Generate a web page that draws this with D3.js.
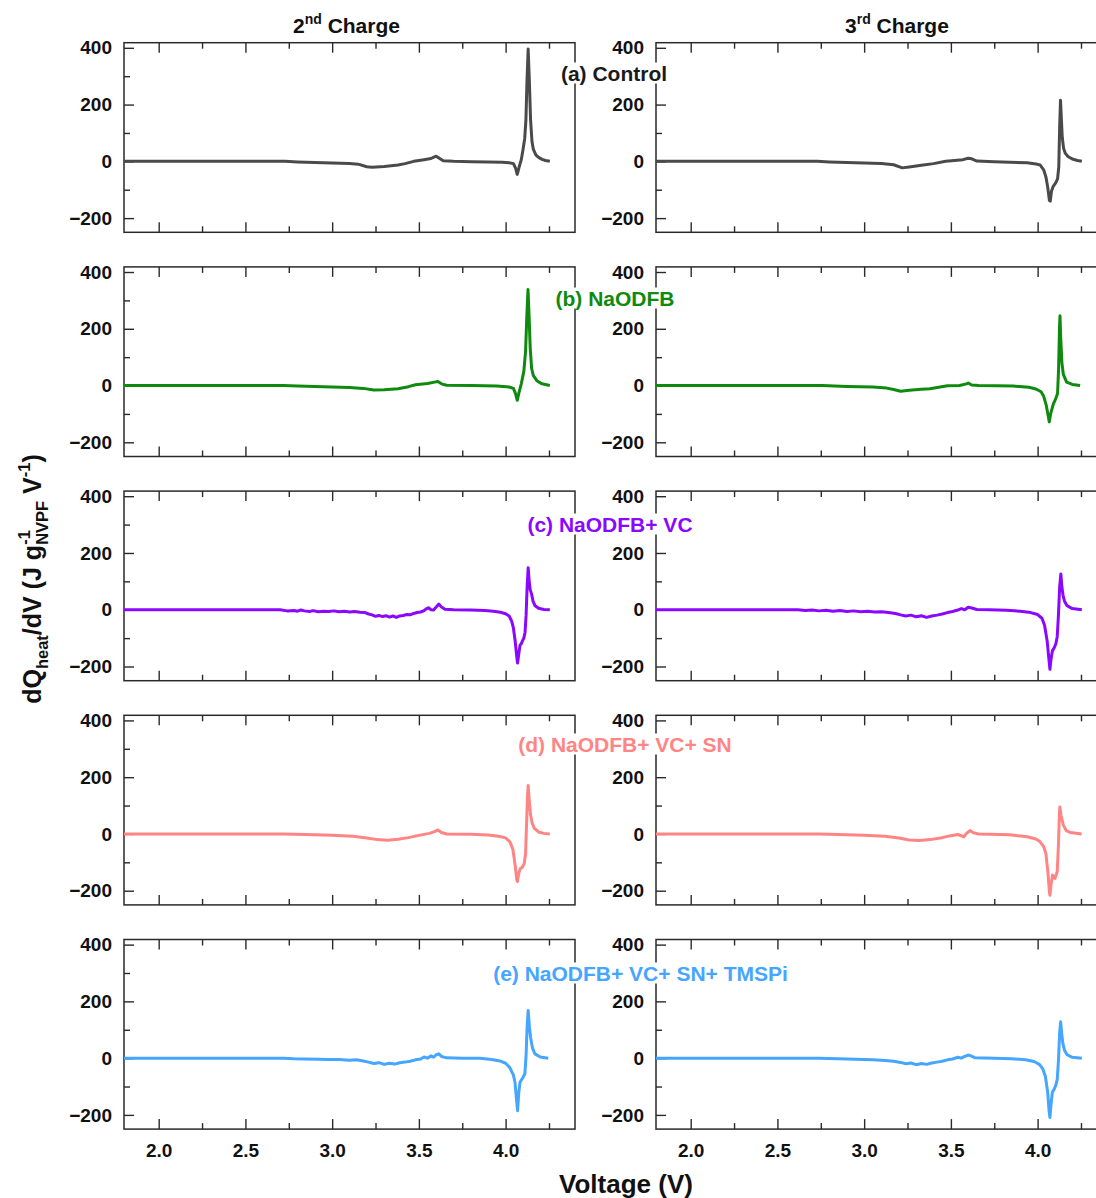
<!DOCTYPE html>
<html><head><meta charset="utf-8">
<script src="https://cdn.jsdelivr.net/npm/d3@7"></script>
<style>
body{margin:0;background:#fff;}
text{font-family:"Liberation Sans",Arial,sans-serif;font-weight:bold;}
</style></head>
<body><svg id="c" width="1096" height="1198"></svg>
<script>
// ---- data (Voltage V, dQheat/dV) ----
const xMajor = [2.0, 2.5, 3.0, 3.5, 4.0];
const xMinor = [2.25, 2.75, 3.25, 3.75, 4.25];
const yMajor = [-200, 0, 200, 400];
const yMinor = [-100, 100, 300];
const columnTitles = [["2", "nd", " Charge"], ["3", "rd", " Charge"]];
const seriesLabels = ["(a) Control", "(b) NaODFB", "(c) NaODFB+ VC", "(d) NaODFB+ VC+ SN", "(e) NaODFB+ VC+ SN+ TMSPi"];
const seriesColors = ["#4a4a4a", "#0e8a0e", "#8a08ff", "#ff8585", "#45a5ff"];
const labelColors = ["#1a1a1a", "#0e8a0e", "#8a08ff", "#ff8585", "#45a5ff"];

const ctrl2 = [[1.80,0],[2.50,0],[2.73,0],[2.80,-2],[2.90,-4],[3.00,-6],[3.10,-8],[3.15,-10],[3.20,-19],[3.23,-21],[3.30,-18],[3.38,-13],[3.42,-8],[3.47,0],[3.52,5],[3.57,10],[3.59,16],[3.60,18],[3.62,10],[3.64,2],[3.70,0],[3.80,-1],[3.90,-2],[3.98,-3],[4.02,-5],[4.045,-8],[4.058,-25],[4.067,-46],[4.078,-20],[4.09,5],[4.10,40],[4.11,80],[4.117,145],[4.123,280],[4.130,396],[4.137,280],[4.144,145],[4.152,70],[4.160,42],[4.175,22],[4.19,14],[4.21,7],[4.23,3],[4.255,0]];
const ctrl3 = [[1.80,0],[2.50,0],[2.73,0],[2.80,-2],[2.95,-5],[3.10,-8],[3.17,-12],[3.22,-23],[3.26,-20],[3.33,-14],[3.40,-8],[3.47,0],[3.52,3],[3.57,6],[3.60,11],[3.62,9],[3.65,1],[3.75,-1],[3.84,-3],[3.94,-5],[3.99,-9],[4.015,-13],[4.035,-30],[4.048,-55],[4.058,-90],[4.068,-138],[4.073,-140],[4.08,-105],[4.09,-88],[4.105,-75],[4.115,-62],[4.122,-20],[4.127,120],[4.132,215],[4.137,150],[4.142,85],[4.15,45],[4.16,28],[4.175,17],[4.20,8],[4.23,3],[4.255,0]];
const naodfb2 = [[1.80,0],[2.72,0],[2.80,-2],[2.95,-4],[3.10,-7],[3.18,-10],[3.24,-16],[3.30,-15],[3.38,-11],[3.44,-4],[3.48,3],[3.55,7],[3.59,12],[3.61,14],[3.63,6],[3.66,1],[3.80,0],[3.95,-2],[4.02,-5],[4.045,-10],[4.058,-30],[4.067,-52],[4.077,-25],[4.09,5],[4.105,50],[4.115,120],[4.122,240],[4.129,338],[4.135,250],[4.142,130],[4.15,60],[4.16,35],[4.18,17],[4.21,6],[4.255,0]];
const naodfb3 = [[1.80,0],[2.76,0],[2.90,-3],[3.05,-5],[3.13,-9],[3.17,-14],[3.21,-20],[3.26,-17],[3.33,-13],[3.38,-11],[3.43,-6],[3.48,-1],[3.55,0],[3.59,6],[3.60,9],[3.62,2],[3.66,0],[3.86,-2],[3.95,-6],[3.99,-12],[4.02,-22],[4.035,-38],[4.05,-70],[4.062,-110],[4.067,-128],[4.075,-100],[4.09,-66],[4.105,-45],[4.115,-28],[4.121,60],[4.126,200],[4.129,246],[4.133,170],[4.14,80],[4.148,40],[4.167,12],[4.20,4],[4.245,0]];
const vc2 = [[1.80,0],[2.70,0],[2.74,-4],[2.78,-3],[2.80,-5],[2.82,-1],[2.84,-4],[2.87,-6],[2.89,-3],[2.92,-7],[2.95,-5],[2.98,-6],[3.01,-4],[3.04,-7],[3.07,-5],[3.10,-8],[3.13,-6],[3.16,-9],[3.19,-10],[3.21,-15],[3.23,-18],[3.25,-23],[3.27,-20],[3.29,-24],[3.31,-21],[3.33,-26],[3.35,-22],[3.37,-27],[3.39,-22],[3.41,-20],[3.43,-17],[3.45,-18],[3.47,-13],[3.49,-10],[3.51,-8],[3.53,-3],[3.54,2],[3.555,7],[3.57,0],[3.585,-1],[3.60,10],[3.615,20],[3.63,10],[3.65,2],[3.70,0],[3.80,-1],[3.88,-3],[3.93,-5],[3.97,-9],[4.00,-14],[4.02,-22],[4.035,-40],[4.045,-65],[4.055,-110],[4.065,-170],[4.069,-188],[4.075,-160],[4.083,-125],[4.09,-120],[4.097,-110],[4.105,-100],[4.112,-80],[4.118,-20],[4.124,80],[4.130,148],[4.136,100],[4.142,70],[4.15,55],[4.158,30],[4.17,14],[4.19,5],[4.22,1],[4.255,0]];
const vc3 = [[1.80,0],[2.62,0],[2.66,-3],[2.70,-1],[2.74,-4],[2.78,-2],[2.82,-5],[2.86,-3],[2.90,-6],[2.94,-4],[2.98,-7],[3.02,-5],[3.06,-8],[3.10,-7],[3.14,-10],[3.18,-13],[3.21,-18],[3.24,-22],[3.27,-19],[3.30,-25],[3.33,-21],[3.36,-27],[3.39,-22],[3.42,-19],[3.45,-15],[3.48,-10],[3.51,-6],[3.54,-1],[3.56,4],[3.58,0],[3.60,9],[3.62,6],[3.65,1],[3.72,0],[3.82,-2],[3.90,-5],[3.96,-10],[4.00,-17],[4.025,-30],[4.04,-55],[4.055,-110],[4.066,-180],[4.071,-210],[4.077,-175],[4.085,-145],[4.095,-135],[4.105,-120],[4.113,-95],[4.12,-20],[4.127,80],[4.134,126],[4.14,80],[4.147,50],[4.155,30],[4.17,14],[4.20,4],[4.255,0]];
const vcsn2 = [[1.80,0],[2.72,0],[2.85,-2],[3.00,-5],[3.12,-8],[3.20,-14],[3.26,-20],[3.32,-22],[3.38,-19],[3.44,-13],[3.50,-5],[3.56,2],[3.59,8],[3.61,14],[3.63,5],[3.66,0],[3.80,-1],[3.90,-4],[3.96,-8],[4.00,-14],[4.025,-28],[4.042,-55],[4.055,-110],[4.064,-160],[4.068,-168],[4.075,-140],[4.085,-122],[4.095,-118],[4.107,-105],[4.115,-70],[4.121,40],[4.126,130],[4.130,171],[4.136,120],[4.143,70],[4.152,40],[4.165,20],[4.19,7],[4.22,2],[4.255,0]];
const vcsn3 = [[1.80,0],[2.74,0],[2.85,-2],[3.00,-5],[3.12,-8],[3.20,-14],[3.26,-21],[3.32,-23],[3.38,-20],[3.44,-14],[3.50,-6],[3.54,-2],[3.575,-10],[3.59,2],[3.61,12],[3.63,4],[3.66,0],[3.84,-3],[3.94,-10],[3.99,-18],[4.013,-27],[4.035,-45],[4.048,-70],[4.06,-140],[4.068,-205],[4.071,-216],[4.077,-180],[4.086,-145],[4.10,-157],[4.113,-133],[4.12,-40],[4.125,60],[4.128,95],[4.135,65],[4.148,31],[4.165,12],[4.19,5],[4.254,0]];
const tmspi2 = [[1.80,0],[2.72,0],[2.78,-2],[2.85,-3],[2.92,-4],[2.98,-5],[3.04,-5],[3.10,-7],[3.14,-6],[3.18,-10],[3.21,-14],[3.24,-19],[3.27,-16],[3.30,-22],[3.33,-18],[3.36,-21],[3.39,-16],[3.42,-14],[3.45,-11],[3.48,-6],[3.51,-3],[3.53,4],[3.55,0],[3.57,8],[3.585,3],[3.60,12],[3.615,15],[3.63,6],[3.66,1],[3.75,0],[3.852,0],[3.92,-5],[3.967,-10],[4.00,-18],[4.025,-34],[4.045,-60],[4.054,-85],[4.062,-140],[4.069,-185],[4.076,-120],[4.083,-85],[4.098,-70],[4.111,-55],[4.118,10],[4.124,110],[4.130,168],[4.137,110],[4.144,73],[4.155,35],[4.169,15],[4.20,4],[4.246,0]];
const tmspi3 = [[1.80,0],[2.74,0],[2.85,-2],[2.95,-4],[3.05,-6],[3.12,-8],[3.17,-11],[3.21,-15],[3.24,-20],[3.27,-17],[3.30,-23],[3.33,-19],[3.36,-22],[3.39,-17],[3.42,-14],[3.45,-11],[3.48,-6],[3.51,-3],[3.54,3],[3.56,0],[3.58,6],[3.60,11],[3.615,8],[3.64,1],[3.75,0],[3.85,-2],[3.93,-6],[3.98,-12],[4.01,-22],[4.03,-38],[4.045,-65],[4.058,-120],[4.066,-185],[4.071,-209],[4.077,-165],[4.085,-120],[4.095,-110],[4.105,-95],[4.113,-75],[4.12,-10],[4.127,90],[4.133,128],[4.139,85],[4.146,50],[4.155,28],[4.17,12],[4.20,3],[4.255,0]];

const panels = [[ctrl2, ctrl3], [naodfb2, naodfb3], [vc2, vc3], [vcsn2, vcsn3], [tmspi2, tmspi3]];

// ---- layout ----
const svg = d3.select("#c");
const colX = [124, 656];
const plotW = 451, plotH = 189.6;
const rowTop = i => 42.7 + 224.2 * i;
const frameColor = "#2a2a2a";
const labelPos = [[614, 73], [615, 298], [610, 524], [625, 744], [640.5, 973]];

const x = d3.scaleLinear().domain([1.8, 4.4]).range([0, plotW]);
const y = d3.scaleLinear().domain([-250, 418]).range([plotH, 0]);
const line = d3.line().x(d => x(d[0])).y(d => y(d[1])).curve(d3.curveLinear);

function styleAxis(g) {
  g.select(".domain").remove();
  g.selectAll(".tick line").attr("stroke", frameColor).attr("stroke-width", 1.4);
  g.selectAll(".tick text").attr("fill", "#111").style("font-size", "19px").style("font-weight", "bold");
}

panels.forEach((row, i) => {
  row.forEach((data, j) => {
    const g = svg.append("g").attr("transform", `translate(${colX[j]},${rowTop(i)})`);
    const xb = g.append("g").attr("transform", `translate(0,${plotH})`)
      .call(d3.axisBottom(x).tickValues(xMajor).tickSize(-10).tickPadding(14)
        .tickFormat(i === 4 ? d3.format(".1f") : () => ""));
    styleAxis(xb);
    styleAxis(g.append("g").attr("transform", `translate(0,${plotH})`)
      .call(d3.axisBottom(x).tickValues(xMinor).tickSize(-6).tickFormat(() => "")));
    styleAxis(g.append("g").call(d3.axisTop(x).tickValues(xMajor).tickSize(-10).tickFormat(() => "")));
    styleAxis(g.append("g").call(d3.axisTop(x).tickValues(xMinor).tickSize(-6).tickFormat(() => "")));
    styleAxis(g.append("g").call(d3.axisLeft(y).tickValues(yMajor).tickSize(-10).tickPadding(12).tickFormat(d3.format("d"))));
    styleAxis(g.append("g").call(d3.axisLeft(y).tickValues(yMinor).tickSize(-6).tickFormat(() => "")));
    g.append("rect").attr("width", plotW).attr("height", plotH)
      .attr("fill", "none").attr("stroke", frameColor).attr("stroke-width", 1.5);
    g.append("path").datum(data).attr("d", line)
      .attr("fill", "none").attr("stroke", seriesColors[i])
      .attr("stroke-width", 3).attr("stroke-linejoin", "round");
  });
});

// ---- rich text helper ----
function richText(parent, pieces, anchor) {
  const g = parent.append("g");
  let cx = 0, prevStart = 0, prevEnd = 0;
  pieces.forEach(p => {
    const start = p.stack ? prevStart : cx;
    const t = g.append("text").attr("x", start).attr("y", p.dy || 0)
      .style("font-size", p.size + "px").style("white-space", "pre")
      .attr("fill", p.fill || "#111").text(p.t);
    const w = t.node().getComputedTextLength();
    const end = start + w;
    if (p.stack) { cx = Math.max(prevEnd, end); prevEnd = cx; }
    else { cx = end; prevEnd = end; }
    prevStart = start;
  });
  if (anchor === "middle") g.attr("transform", `translate(${-cx / 2},0)`);
  return g;
}

// column titles
const titleX = [293, 845];
columnTitles.forEach((ct, j) => {
  const g = svg.append("g").attr("transform", `translate(${titleX[j]},33)`);
  richText(g, [{t: ct[0], size: 21}, {t: ct[1], size: 14, dy: -9}, {t: ct[2], size: 21}]);
});

// x axis title
svg.append("text").attr("x", 626).attr("y", 1193).attr("text-anchor", "middle")
  .style("font-size", "26px").attr("fill", "#111").text("Voltage (V)");

// y axis title
const yt = svg.append("g").attr("transform", "translate(41,579) rotate(-90)");
richText(yt, [
  {t: "dQ", size: 25},
  {t: "heat", size: 16.5, dy: 7},
  {t: "/dV (J g", size: 25},
  {t: "NVPF", size: 16.5, dy: 7},
  {t: "-1", size: 16.5, dy: -11, stack: true},
  {t: " V", size: 25},
  {t: "-1", size: 16.5, dy: -11},
  {t: ")", size: 25}
], "middle");

// series labels with white background
seriesLabels.forEach((lab, i) => {
  const g = svg.append("g");
  const t = g.append("text").attr("x", labelPos[i][0]).attr("y", labelPos[i][1])
    .attr("text-anchor", "middle").attr("dominant-baseline", "central")
    .style("font-size", "21px").attr("fill", labelColors[i]).text(lab);
  const bb = t.node().getBBox();
  g.insert("rect", "text").attr("x", bb.x - 1).attr("y", bb.y + 1)
    .attr("width", bb.width + 2).attr("height", bb.height - 2).attr("fill", "#fff");
});
</script></body></html>
